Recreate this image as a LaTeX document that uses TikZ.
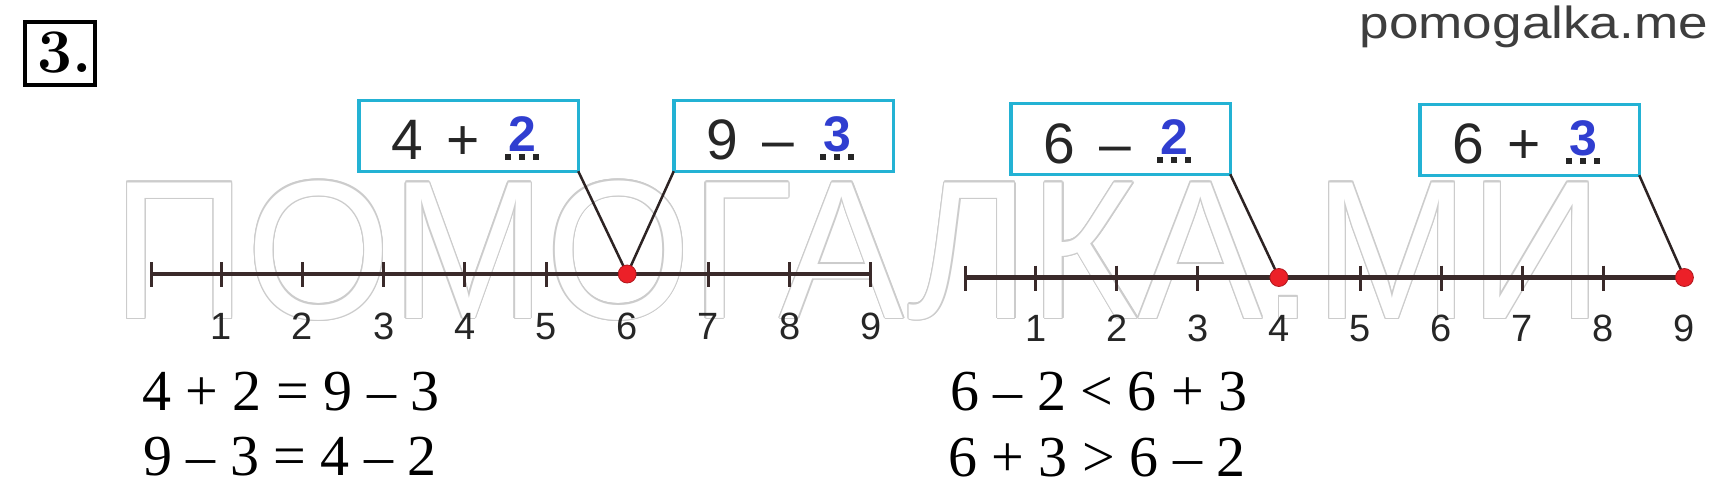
\documentclass[tikz,border=0pt]{standalone}
\usepackage{fontspec}
\usepackage{graphicx}
\newfontfamily\arialf{Liberation Sans}
\newfontfamily\timesf{Liberation Serif}
\definecolor{boxcyan}{RGB}{35,178,212}
\definecolor{digblue}{RGB}{48,62,208}
\definecolor{txtdark}{RGB}{38,38,38}
\definecolor{axiscol}{RGB}{58,42,42}
\definecolor{dotred}{RGB}{236,32,40}
\definecolor{dotedge}{RGB}{175,22,28}
\definecolor{wmgray}{RGB}{204,204,204}
\definecolor{sitegray}{RGB}{62,62,62}
\definecolor{conncol}{RGB}{45,35,35}
\newcommand\wmword{\scalebox{0.945}[1]{ПОМОГАЛКА.МИ}}
\newcommand\eqbox[6]{%
  \node[numbox] (b#1) at ({#2+111.5},{#3+37}) {};
  \node[blk] (t#1a) at ({#2+50},{#3+61}) {#4};
  \node[blk] (t#1b) at ({#2+106},{#3+61}) {#5};
  \node[blu] (t#1c) at ({#2+165},{#3+52}) {#6};
  \foreach \q in {-14,0,14} {\fill[txtdark] ({#2+165+\q-3},{#3+55}) rectangle ++(6,6);}
}
\begin{document}
\begin{tikzpicture}[x=1pt,y=-1pt,
  numbox/.style={draw=boxcyan, line width=3.5pt, rectangle, minimum width=219.5pt, minimum height=70.5pt, inner sep=0pt, outer sep=0pt},
  blk/.style={font=\arialf\fontsize{57}{57}\selectfont, text=txtdark, inner sep=0pt, anchor=base},
  blu/.style={font=\arialf\bfseries\fontsize{50}{50}\selectfont, text=digblue, inner sep=0pt, anchor=base},
  lbl/.style={font=\arialf\fontsize{38}{38}\selectfont, text=txtdark, inner sep=0pt, anchor=base},
  eqn/.style={font=\timesf\fontsize{58}{58}\selectfont, text=black, inner sep=0pt, anchor=base west},
  wmtext/.style={font=\arialf\fontsize{197}{197}\selectfont, inner sep=0pt, anchor=base west},
  axisline/.style={draw=axiscol, line width=4.5pt},
  tickmark/.style={draw=axiscol, line width=3pt},
  conn/.style={draw=conncol, line width=2.5pt},
  reddot/.style={circle, fill=dotred, draw=dotedge, line width=0.8pt, minimum size=18pt, inner sep=0pt}
]
\useasboundingbox (0,0) rectangle (1721,500);
\fill[white] (0,0) rectangle (1721,500);

% watermark (outlined letters)
\foreach \a in {0,30,...,330} {
  \node[wmtext, text=wmgray] (wm\a) at ([shift={(\a:1.3)}]112.3,318) {\wmword};
}
\node[wmtext, text=white] (wmtop) at (112.3,318) {\wmword};

% exercise number
\node[draw=black, line width=4pt, minimum width=70pt, minimum height=63pt, inner sep=0pt] (nbox) at (60,53.5) {};
\node[anchor=base west, inner sep=0pt, font=\bfseries\fontsize{62}{62}\selectfont] (nlbl) at (37,72.5) {3.};

% site name
\node[anchor=base west, inner sep=0pt, text=sitegray, font=\arialf\fontsize{45}{45}\selectfont] (site) at (1359.5,39) {\scalebox{1.18}[1]{pomogalka.me}};

% number line 1
\coordinate (a1s) at (151,274);
\coordinate (a1e) at (870.8,274);
\draw[axisline] (a1s) -- (a1e);
\draw[tickmark] (151,262) -- (151,287);
\foreach \k in {1,2,3,4,5,7,8,9} {
  \draw[tickmark] ({140+81.2*\k},262) -- ({140+81.2*\k},287);
}
\foreach \k in {1,...,9} {
  \node[lbl] (la\k) at ({140+81.2*\k},339) {\k};
}

% number line 2
\coordinate (a2s) at (965,277.5);
\coordinate (a2e) at (1684.4,277.5);
\draw[axisline] (a2s) -- (a2e);
\draw[tickmark] (965,265.5) -- (965,290.5);
\foreach \k in {1,2,3,5,6,7,8} {
  \draw[tickmark] ({954.5+81.1*\k},265.5) -- ({954.5+81.1*\k},290.5);
}
\foreach \k in {1,...,9} {
  \node[lbl] (lb\k) at ({954.5+81.1*\k},341) {\k};
}

% boxes
\eqbox{1}{357}{99}{4}{+}{2}
\eqbox{2}{672}{99}{9}{–}{3}
\eqbox{3}{1009}{102}{6}{–}{2}
\eqbox{4}{1418}{103}{6}{+}{3}

% points and connectors
\coordinate (c1) at (627.2,274);
\coordinate (c2) at (1278.9,277.5);
\coordinate (c3) at (1684.4,277.5);
\draw[conn] (b1.south east) -- (c1);
\draw[conn] (b2.south west) -- (c1);
\draw[conn] (b3.south east) -- (c2);
\draw[conn] (b4.south east) -- (c3);
\node[reddot] (p1) at (c1) {};
\node[reddot] (p2) at (c2) {};
\node[reddot] (p3) at (c3) {};

% equations
\node[eqn] (e1) at (142,410) {4 + 2 = 9 – 3};
\node[eqn] (e2) at (143,475) {9 – 3 = 4 – 2};
\node[eqn] (e3) at (950,410) {6 – 2 < 6 + 3};
\node[eqn] (e4) at (948,476) {6 + 3 > 6 – 2};
\end{tikzpicture}
\end{document}
